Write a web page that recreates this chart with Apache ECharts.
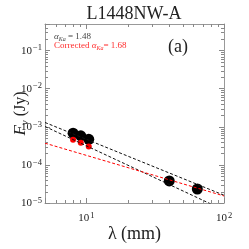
<!DOCTYPE html>
<html><head><meta charset="utf-8">
<script src="https://cdn.jsdelivr.net/npm/echarts@6/dist/echarts.min.js"></script>
<style>html,body{margin:0;padding:0;background:#fff}#c{width:249px;height:249px}</style>
</head><body><div id="c"></div>
<script>
// ---- data ----
const lambdaMm = [8.0, 9.1, 10.4, 40, 64];
const fluxJy = [6.8e-4, 5.8e-4, 4.7e-4, 3.8e-5, 2.33e-5];
const lambdaKaMm = [8.0, 9.1, 10.4];
const fluxKaCorrectedJy = [4.55e-4, 3.8e-4, 3.03e-4];
const fitLambdaMm = [5, 100];
const fitAlpha148Jy = [1.30e-3, 1.6e-5];
const fitAlpha168Jy = [1.02e-3, 6.5e-6];
const fitCorrectedJy = [3.72e-4, 1.53e-5];
const xRange = [5, 100];
const yRange = [1e-5, 0.5];
const xMinorTicks = [6, 7, 8, 9, 20, 30, 40, 50, 60, 70, 80, 90];
const yMinorTicks = [2e-5, 3e-5, 4e-5, 5e-5, 6e-5, 7e-5, 8e-5, 9e-5,
  2e-4, 3e-4, 4e-4, 5e-4, 6e-4, 7e-4, 8e-4, 9e-4,
  2e-3, 3e-3, 4e-3, 5e-3, 6e-3, 7e-3, 8e-3, 9e-3,
  2e-2, 3e-2, 4e-2, 5e-2, 6e-2, 7e-2, 8e-2, 9e-2,
  2e-1, 3e-1, 4e-1];
const titleText = 'L1448NW-A';
const panelLabel = '(a)';

const FONT = 'Liberation Serif';
const FRAME = '#999';
const TICK = '#888';
const TXT = '#222';

function powLabel(v) {
  const e = Math.log10(v);
  const r = Math.round(e);
  if (Math.abs(e - r) > 1e-6) return '';
  return '{b|10}{e|' + (r < 0 ? '\u2212' + (-r) : String(r)) + '}';
}
const labelRich = {
  b: { fontSize: 11, fontFamily: FONT, color: TXT, lineHeight: 14 },
  e: { fontSize: 8.5, fontFamily: FONT, color: TXT, lineHeight: 7, verticalAlign: 'top', padding: [0, 0, 0, 1] }
};

function frameAxis(pos, extra) {
  return Object.assign({
    type: 'log', logBase: 10, position: pos,
    axisLine: { show: true, onZero: false, lineStyle: { color: FRAME, width: 1 } },
    axisTick: { show: true, inside: true, length: 5, lineStyle: { color: TICK, width: 1 } },
    axisLabel: { show: false },
    splitLine: { show: false },
    minorTick: { show: false }
  }, extra);
}

function crisp(v) { return Math.round(v) + 0.5; }

function annot(txt, color, top) {
  return { type: 'text', left: 54, top: top, style: {
    text: txt, fontFamily: FONT, fontSize: 9, fill: color,
    rich: {
      a: { fontFamily: FONT, fontSize: 9, fontStyle: 'italic', fill: color, lineHeight: 12 },
      s: { fontFamily: FONT, fontSize: 6, fontStyle: 'italic', fill: color, lineHeight: 6, verticalAlign: 'bottom' }
    } } };
}

const chart = echarts.init(document.getElementById('c'), null, { renderer: 'canvas' });
chart.setOption({
  animation: false,
  backgroundColor: '#fff',
  grid: { left: 45, right: 25, top: 24, bottom: 46, containLabel: false, outerBoundsMode: 'none' },
  xAxis: [
    frameAxis('bottom', {
      min: xRange[0], max: xRange[1],
      axisLabel: { show: true, formatter: powLabel, rich: labelRich, margin: 8, fontFamily: FONT },
      name: 'λ (mm)', nameLocation: 'middle', nameGap: 22, nameMoveOverlap: false,
      nameTextStyle: { fontFamily: FONT, fontSize: 18, color: TXT, verticalAlign: 'top' }
    }),
    frameAxis('top', { min: xRange[0], max: xRange[1] })
  ],
  yAxis: [
    frameAxis('left', {
      min: yRange[0], max: yRange[1],
      axisLabel: { show: true, formatter: powLabel, rich: labelRich, margin: 3, fontFamily: FONT },
      name: '{i|F}{s|ν} (Jy)', nameLocation: 'middle', nameGap: 14, nameRotate: 90, nameMoveOverlap: false,
      nameTextStyle: {
        fontFamily: FONT, fontSize: 16, color: TXT, lineHeight: 20,
        rich: {
          i: { fontFamily: FONT, fontSize: 17, fontStyle: 'italic', color: TXT, lineHeight: 20 },
          s: { fontFamily: FONT, fontSize: 11, fontStyle: 'italic', color: TXT, lineHeight: 8, verticalAlign: 'bottom' }
        }
      }
    }),
    frameAxis('right', { min: yRange[0], max: yRange[1] })
  ],
  graphic: [
    { type: 'text', x: 134, y: 14, style: { text: titleText, fontFamily: FONT, fontSize: 18, fill: TXT, align: 'center', verticalAlign: 'middle' } },
    { type: 'text', x: 178, y: 47, style: { text: panelLabel, fontFamily: FONT, fontSize: 18, fill: TXT, align: 'center', verticalAlign: 'middle' } },
    annot('{a|α}{s|Ka} = 1.48', '#444', 32),
    annot('Corrected {a|α}{s|Ka}= 1.68', '#ff2a2a', 41)
  ],
  series: [
    { type: 'scatter', data: lambdaMm.map((l, i) => [l, fluxJy[i]]), symbol: 'circle', symbolSize: 11,
      itemStyle: { color: '#000', opacity: 1 }, z: 2, silent: true },
    { type: 'scatter', data: lambdaKaMm.map((l, i) => [l, fluxKaCorrectedJy[i]]), symbol: 'circle', symbolSize: 6,
      itemStyle: { color: '#f00', opacity: 1 }, z: 2, silent: true },
    { type: 'line', data: fitLambdaMm.map((l, i) => [l, fitAlpha148Jy[i]]), showSymbol: false, clip: true,
      lineStyle: { color: '#111', width: 1, type: [3, 2] }, z: 3, silent: true },
    { type: 'line', data: fitLambdaMm.map((l, i) => [l, fitAlpha168Jy[i]]), showSymbol: false, clip: true,
      lineStyle: { color: '#111', width: 1, type: [3, 2] }, z: 3, silent: true },
    { type: 'line', data: fitLambdaMm.map((l, i) => [l, fitCorrectedJy[i]]), showSymbol: false, clip: true,
      lineStyle: { color: '#f00', width: 1, type: [3, 2] }, z: 4, silent: true },
    { type: 'custom', silent: true, clip: false, z: 5,
      data: xMinorTicks.map(v => [v, yRange[0]]),
      renderItem: (params, api) => {
        const v = api.value(0);
        const b = api.coord([v, yRange[0]]);
        const t = api.coord([v, yRange[1]]);
        const x = crisp(b[0]);
        return { type: 'group', children: [
          { type: 'line', shape: { x1: x, y1: b[1], x2: x, y2: b[1] - 3 }, style: { stroke: TICK, lineWidth: 1 } },
          { type: 'line', shape: { x1: x, y1: t[1], x2: x, y2: t[1] + 3 }, style: { stroke: TICK, lineWidth: 1 } }
        ] };
      } },
    { type: 'custom', silent: true, clip: false, z: 5,
      data: yMinorTicks.map(v => [xRange[0], v]),
      renderItem: (params, api) => {
        const v = api.value(1);
        const l = api.coord([xRange[0], v]);
        const r = api.coord([xRange[1], v]);
        const y = crisp(l[1]);
        return { type: 'group', children: [
          { type: 'line', shape: { x1: l[0], y1: y, x2: l[0] + 3, y2: y }, style: { stroke: TICK, lineWidth: 1 } },
          { type: 'line', shape: { x1: r[0], y1: y, x2: r[0] - 3, y2: y }, style: { stroke: TICK, lineWidth: 1 } }
        ] };
      } }
  ]
});
</script></body></html>
